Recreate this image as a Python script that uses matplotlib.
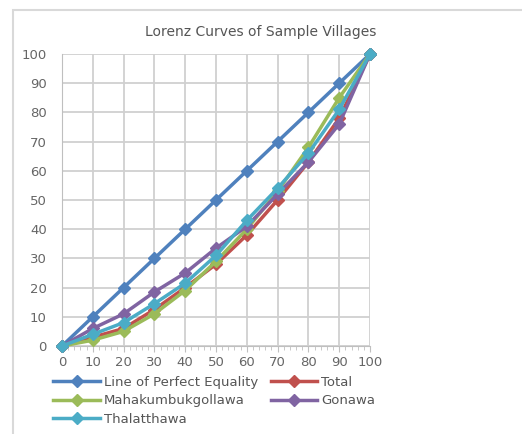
import matplotlib
matplotlib.use("Agg")
import matplotlib.pyplot as plt
from matplotlib.patches import Rectangle
import numpy as np

# cumulative % of population
pop_share = [0, 10, 20, 30, 40, 50, 60, 70, 80, 90, 100]

equality = [0, 10, 20, 30, 40, 50, 60, 70, 80, 90, 100]
total = [0, 3, 6, 12.5, 20, 28, 38, 50, 63, 78, 100]
mahakumbukgollawa = [0, 2, 5, 11, 19, 29, 40, 53, 68, 85, 100]
gonawa = [0, 6, 11, 18.5, 25, 33.5, 41, 52, 63, 76, 100]
thalatthawa = [0, 4, 8, 14.5, 21.5, 31, 43, 54, 66, 81, 100]

series = [
    ("Line of Perfect Equality", equality, "#4F81BD"),
    ("Total", total, "#C0504D"),
    ("Mahakumbukgollawa", mahakumbukgollawa, "#9BBB59"),
    ("Gonawa", gonawa, "#8064A2"),
    ("Thalatthawa", thalatthawa, "#4BACC6"),
]

fig = plt.figure(figsize=(5.22, 4.34), dpi=100)
fig.patch.set_facecolor("white")

# chart area border (light gray, as in Excel)
fig.patches.append(Rectangle((13 / 522, -0.05), 1.2, 1 - 10 / 434 + 0.05,
                             transform=fig.transFigure, fill=False,
                             edgecolor="#D9D9D9", linewidth=1.5))

ax = fig.add_axes([62 / 522, 1 - 346 / 434, 308 / 522, 292 / 434])

lines = {}
for name, vals, col in series:
    ln, = ax.plot(pop_share, vals, color=col, linewidth=2.5, marker="D",
                  markersize=6, label=name, clip_on=False, zorder=3)
    lines[name] = ln

ax.set_xlim(0, 100)
ax.set_ylim(0, 100)
ax.set_xticks(np.arange(0, 101, 10))
ax.set_yticks(np.arange(0, 101, 10))
ax.set_xticks(np.arange(0, 101, 2), minor=True)
ax.grid(True, color="#D0D0D0", linewidth=1.3)
ax.set_axisbelow(True)
for side in ["top", "right"]:
    ax.spines[side].set_visible(False)
ax.spines["left"].set_color("#BFBFBF")
ax.spines["bottom"].set_color("#BFBFBF")
ax.tick_params(axis="both", which="major", labelsize=9.5, colors="#BFBFBF",
               labelcolor="#666666", length=4, direction="out")
ax.tick_params(axis="x", which="minor", length=3, colors="#BFBFBF")
ax.tick_params(axis="y", length=0, pad=11)

fig.text(0.5, 1 - 32 / 434, "Lorenz Curves of Sample Villages",
         ha="center", va="center", fontsize=10, color="#555555")

# Excel fills legend rows first; matplotlib fills columns, so reorder
order = ["Line of Perfect Equality", "Mahakumbukgollawa", "Thalatthawa",
         "Total", "Gonawa"]
ax.legend([lines[n] for n in order], order, loc="upper left",
          bbox_to_anchor=(-0.045, -0.085), ncol=2, frameon=False,
          fontsize=9.5, labelcolor="#555555", handlelength=3.5,
          columnspacing=1.0, handletextpad=0.3, labelspacing=0.4,
          borderaxespad=0)

fig.savefig("out.png", dpi=100)
